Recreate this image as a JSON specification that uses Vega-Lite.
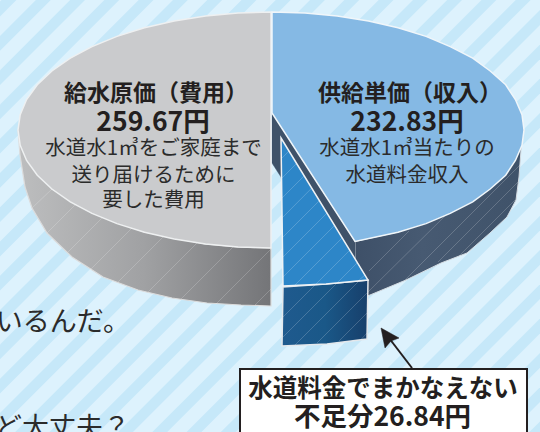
{"$schema":"https://vega.github.io/schema/vega-lite/v6.json","width":540,"height":432,"padding":0,"autosize":{"type":"none"},"background":"#ddf2fd","view":{"stroke":null},
"encoding":{"x":{"field":"x","type":"quantitative","axis":null,"scale":{"domain":[0,540],"nice":false,"zero":false}},"y":{"field":"y","type":"quantitative","axis":null,"scale":{"domain":[0,432],"reverse":true,"nice":false,"zero":false}}},
"layer":[
{"data":{"values":[{"x":-5.3,"y":-20,"x2":-20,"y2":-5.3},{"x":29,"y":-20,"x2":-20,"y2":29},{"x":63.3,"y":-20,"x2":-20,"y2":63.3},{"x":97.6,"y":-20,"x2":-20,"y2":97.6},{"x":131.8,"y":-20,"x2":-20,"y2":131.8},{"x":166.1,"y":-20,"x2":-20,"y2":166.1},{"x":200.4,"y":-20,"x2":-20,"y2":200.4},{"x":234.7,"y":-20,"x2":-20,"y2":234.7},{"x":269,"y":-20,"x2":-20,"y2":269},{"x":303.2,"y":-20,"x2":-20,"y2":303.2},{"x":337.5,"y":-20,"x2":-20,"y2":337.5},{"x":371.8,"y":-20,"x2":-20,"y2":371.8},{"x":406.1,"y":-20,"x2":-20,"y2":406.1},{"x":440.4,"y":-20,"x2":-20,"y2":440.4},{"x":474.6,"y":-20,"x2":-20,"y2":474.6},{"x":508.9,"y":-20,"x2":-20,"y2":508.9},{"x":543.2,"y":-20,"x2":-20,"y2":543.2},{"x":577.5,"y":-20,"x2":-20,"y2":577.5},{"x":611.8,"y":-20,"x2":-20,"y2":611.8},{"x":646,"y":-20,"x2":-20,"y2":646},{"x":680.3,"y":-20,"x2":-20,"y2":680.3},{"x":714.6,"y":-20,"x2":-20,"y2":714.6},{"x":748.9,"y":-20,"x2":-20,"y2":748.9},{"x":783.2,"y":-20,"x2":-20,"y2":783.2},{"x":817.4,"y":-20,"x2":-20,"y2":817.4},{"x":851.7,"y":-20,"x2":-20,"y2":851.7},{"x":886,"y":-20,"x2":-20,"y2":886},{"x":920.3,"y":-20,"x2":-20,"y2":920.3},{"x":954.6,"y":-20,"x2":-20,"y2":954.6},{"x":988.8,"y":-20,"x2":-20,"y2":988.8}]},
"mark":{"type":"rule","color":"#c6e8f9","strokeWidth":10.5},"encoding":{"x2":{"field":"x2"},"y2":{"field":"y2"}}},

{"data":{"values":[{"i":0,"x":18,"y":130},{"i":1,"x":20,"y":155},{"i":2,"x":25,"y":187},{"i":3,"x":32,"y":208},{"i":4,"x":47,"y":233},{"i":5,"x":72,"y":257},{"i":6,"x":103,"y":277},{"i":7,"x":138,"y":290},{"i":8,"x":172,"y":298},{"i":9,"x":207,"y":303},{"i":10,"x":241,"y":305},{"i":11,"x":271,"y":306},{"i":12,"x":271,"y":248},{"i":13,"x":238,"y":247},{"i":14,"x":205,"y":244},{"i":15,"x":144,"y":232},{"i":16,"x":92,"y":213},{"i":17,"x":52,"y":189},{"i":18,"x":27,"y":160}]},
"mark":{"type":"line","interpolate":"linear-closed","stroke":"#dcdcdc","strokeWidth":1.2,"fill":{"gradient":"linear","x1":0,"y1":0,"x2":1,"y2":0,"stops":[{"offset":0,"color":"#bdbebf"},{"offset":0.5,"color":"#a0a1a3"},{"offset":1,"color":"#747578"}]}},"encoding":{"order":{"field":"i"}}},

{"data":{"values":[{"i":0,"x":524,"y":130},{"i":1,"x":521,"y":150},{"i":2,"x":519,"y":177},{"i":3,"x":516,"y":200},{"i":4,"x":507,"y":217},{"i":5,"x":490,"y":233},{"i":6,"x":467,"y":253},{"i":7,"x":441,"y":263},{"i":8,"x":406,"y":280},{"i":9,"x":370,"y":295},{"i":10,"x":355,"y":300},{"i":11,"x":355,"y":241.5},{"i":12,"x":398,"y":232},{"i":13,"x":450,"y":213},{"i":14,"x":490,"y":189},{"i":15,"x":515,"y":160}]},
"mark":{"type":"line","interpolate":"linear-closed","stroke":"#d5dce2","strokeWidth":1,"fill":{"gradient":"linear","x1":0,"y1":0,"x2":1,"y2":0,"stops":[{"offset":0,"color":"#3e5068"},{"offset":0.4,"color":"#475a72"},{"offset":1,"color":"#3f5269"}]}},"encoding":{"order":{"field":"i"}}},

{"data":{"values":[{"i":0,"x":272,"y":113},{"i":1,"x":355,"y":242},{"i":2,"x":355,"y":290},{"i":3,"x":300,"y":250},{"i":4,"x":281,"y":177},{"i":5,"x":272,"y":163}]},
"mark":{"type":"line","interpolate":"linear-closed","fill":"#3f5269","stroke":"#3f5269","strokeWidth":0.5},"encoding":{"order":{"field":"i"}}},

{"data":{"values":[{"i":0,"x":271,"y":12},{"i":1,"x":238,"y":13},{"i":2,"x":205.5,"y":16},{"i":3,"x":174.2,"y":21},{"i":4,"x":144.5,"y":27.8},{"i":5,"x":117,"y":36.4},{"i":6,"x":92,"y":46.6},{"i":7,"x":70.3,"y":58.2},{"i":8,"x":51.9,"y":71},{"i":9,"x":37.3,"y":84.8},{"i":10,"x":26.6,"y":99.5},{"i":11,"x":20.2,"y":114.6},{"i":12,"x":18,"y":130},{"i":13,"x":20.2,"y":145.4},{"i":14,"x":26.6,"y":160.5},{"i":15,"x":37.3,"y":175.2},{"i":16,"x":51.9,"y":189},{"i":17,"x":70.3,"y":201.8},{"i":18,"x":92,"y":213.4},{"i":19,"x":117,"y":223.6},{"i":20,"x":144.5,"y":232.2},{"i":21,"x":174.2,"y":239},{"i":22,"x":205.5,"y":244},{"i":23,"x":238,"y":247},{"i":24,"x":271,"y":248}]},
"mark":{"type":"line","interpolate":"linear-closed","fill":"#cacbcd","stroke":"#eef0f1","strokeWidth":1.5},"encoding":{"order":{"field":"i"}}},

{"data":{"values":[{"i":0,"x":272,"y":12},{"i":1,"x":305,"y":13},{"i":2,"x":337.2,"y":16},{"i":3,"x":368.5,"y":21},{"i":4,"x":398,"y":27.8},{"i":5,"x":426,"y":36.4},{"i":6,"x":450.2,"y":46.6},{"i":7,"x":472.7,"y":58.2},{"i":8,"x":490.2,"y":71},{"i":9,"x":505.7,"y":84.8},{"i":10,"x":515.4,"y":99.5},{"i":11,"x":522,"y":114.6},{"i":12,"x":524,"y":130},{"i":13,"x":522,"y":145.4},{"i":14,"x":515.4,"y":160.5},{"i":15,"x":505.7,"y":175.2},{"i":16,"x":490.2,"y":189},{"i":17,"x":472.7,"y":201.8},{"i":18,"x":450.2,"y":213.4},{"i":19,"x":426,"y":223.6},{"i":20,"x":398,"y":232.2},{"i":21,"x":355,"y":241.5},{"i":22,"x":272,"y":113}]},
"mark":{"type":"line","interpolate":"linear-closed","fill":"#85b9e4","stroke":"#f0f6fa","strokeWidth":1.5},"encoding":{"order":{"field":"i"}}},

{"data":{"values":[{"i":0,"x":283,"y":287},{"i":1,"x":326,"y":284},{"i":2,"x":368,"y":280},{"i":3,"x":367,"y":339},{"i":4,"x":327,"y":344},{"i":5,"x":282,"y":346}]},
"mark":{"type":"line","interpolate":"linear-closed","stroke":"#e4e8ec","strokeWidth":1.5,"fill":{"gradient":"linear","x1":0,"y1":0,"x2":1,"y2":0,"stops":[{"offset":0,"color":"#1f5a8e"},{"offset":0.5,"color":"#1a5888"},{"offset":1,"color":"#173f6b"}]}},"encoding":{"order":{"field":"i"}}},

{"data":{"values":[{"i":0,"x":281,"y":138},{"i":1,"x":368,"y":280},{"i":2,"x":326,"y":284},{"i":3,"x":283,"y":286}]},
"mark":{"type":"line","interpolate":"linear-closed","fill":"#2d86c8","stroke":"#eef2f5","strokeWidth":1.5},"encoding":{"order":{"field":"i"}}},

{"data":{"values":[{"x":282,"y":158,"x2":289,"y2":151},{"x":282,"y":178,"x2":296.6,"y2":163.4},{"x":282,"y":198,"x2":304,"y2":176},{"x":282,"y":218,"x2":311.8,"y2":188},{"x":282,"y":238,"x2":319.4,"y2":200.6},{"x":282,"y":258,"x2":327,"y2":213},{"x":282,"y":278,"x2":334.6,"y2":225.4},{"x":295,"y":285,"x2":342,"y2":238},{"x":316,"y":284,"x2":349.8,"y2":250.2},{"x":337,"y":283,"x2":357.4,"y2":262.6},{"x":358,"y":281,"x2":365,"y2":275},{"x":295,"y":345,"x2":358,"y2":282},{"x":283,"y":337,"x2":337,"y2":283},{"x":283,"y":317,"x2":316,"y2":284},{"x":317,"y":343,"x2":367,"y2":293},{"x":339,"y":341,"x2":367,"y2":313},{"x":361,"y":339.5,"x2":367,"y2":333},{"x":32,"y":208,"x2":52,"y2":189},{"x":47,"y":233,"x2":76,"y2":204},{"x":68,"y":252,"x2":103,"y2":217},{"x":90,"y":270,"x2":132,"y2":228},{"x":118,"y":282,"x2":164,"y2":236},{"x":148,"y":292,"x2":197,"y2":243},{"x":181,"y":299,"x2":233,"y2":247},{"x":216,"y":304,"x2":271,"y2":249},{"x":255,"y":305,"x2":271,"y2":289},{"x":369,"y":271,"x2":409,"y2":231},{"x":368,"y":292,"x2":447,"y2":214},{"x":405,"y":280,"x2":520,"y2":165},{"x":438,"y":262,"x2":518,"y2":182},{"x":459,"y":256,"x2":515,"y2":200}]},
"mark":{"type":"rule","color":"#ffffff","opacity":0.28,"strokeWidth":0.7},"encoding":{"x2":{"field":"x2"},"y2":{"field":"y2"}}},

{"data":{"values":[{"x":240,"y":369,"x2":527,"y2":445}]},"mark":{"type":"rect","fill":"#ffffff","stroke":"#231f20","strokeWidth":2},"encoding":{"x2":{"field":"x2"},"y2":{"field":"y2"}}},

{"data":{"values":[{"x":412,"y":368,"x2":389,"y2":338}]},"mark":{"type":"rule","color":"#231f20","strokeWidth":2},"encoding":{"x2":{"field":"x2"},"y2":{"field":"y2"}}},

{"data":{"values":[{"i":0,"x":381,"y":328},{"i":1,"x":399,"y":338},{"i":2,"x":391,"y":341},{"i":3,"x":385,"y":348}]},"mark":{"type":"line","interpolate":"linear-closed","fill":"#231f20","stroke":"#231f20","strokeWidth":0.5},"encoding":{"order":{"field":"i"}}},

{"data":{"values":[{"x":156,"y":94,"t":"給水原価（費用）"},{"x":410,"y":94,"t":"供給単価（収入）"}]},"mark":{"type":"text","fontWeight":"bold","fontSize":23,"color":"#231f20","baseline":"middle","align":"center","font":"Noto Sans CJK JP"},"encoding":{"text":{"field":"t"}}},
{"data":{"values":[{"x":383,"y":390,"t":"水道料金でまかなえない"}]},"mark":{"type":"text","fontWeight":"bold","fontSize":24.5,"color":"#231f20","baseline":"middle","align":"center","font":"Noto Sans CJK JP"},"encoding":{"text":{"field":"t"}}},
{"data":{"values":[{"x":153,"y":123,"t":"259.67円"},{"x":407,"y":123,"t":"232.83円"},{"x":382.5,"y":418,"t":"不足分26.84円"}]},"mark":{"type":"text","fontWeight":"bold","fontSize":26.5,"color":"#231f20","baseline":"middle","align":"center","font":"Noto Sans CJK JP"},"encoding":{"text":{"field":"t"}}},
{"data":{"values":[{"x":153.5,"y":149,"t":"水道水1㎥をご家庭まで"},{"x":153.5,"y":176,"t":"送り届けるために"},{"x":153.5,"y":201,"t":"要した費用"},{"x":407,"y":149,"t":"水道水1㎥当たりの"},{"x":407,"y":176,"t":"水道料金収入"}]},"mark":{"type":"text","fontSize":20.5,"color":"#2b2b2b","baseline":"middle","align":"center","font":"Noto Sans CJK JP"},"encoding":{"text":{"field":"t"}}},
{"data":{"values":[{"x":130,"y":323,"t":"いるんだ。"},{"x":130,"y":429,"t":"ど大丈夫？"}]},"mark":{"type":"text","fontSize":27,"color":"#2b2b2b","baseline":"middle","align":"right","font":"Noto Sans CJK JP"},"encoding":{"text":{"field":"t"}}}
]}
